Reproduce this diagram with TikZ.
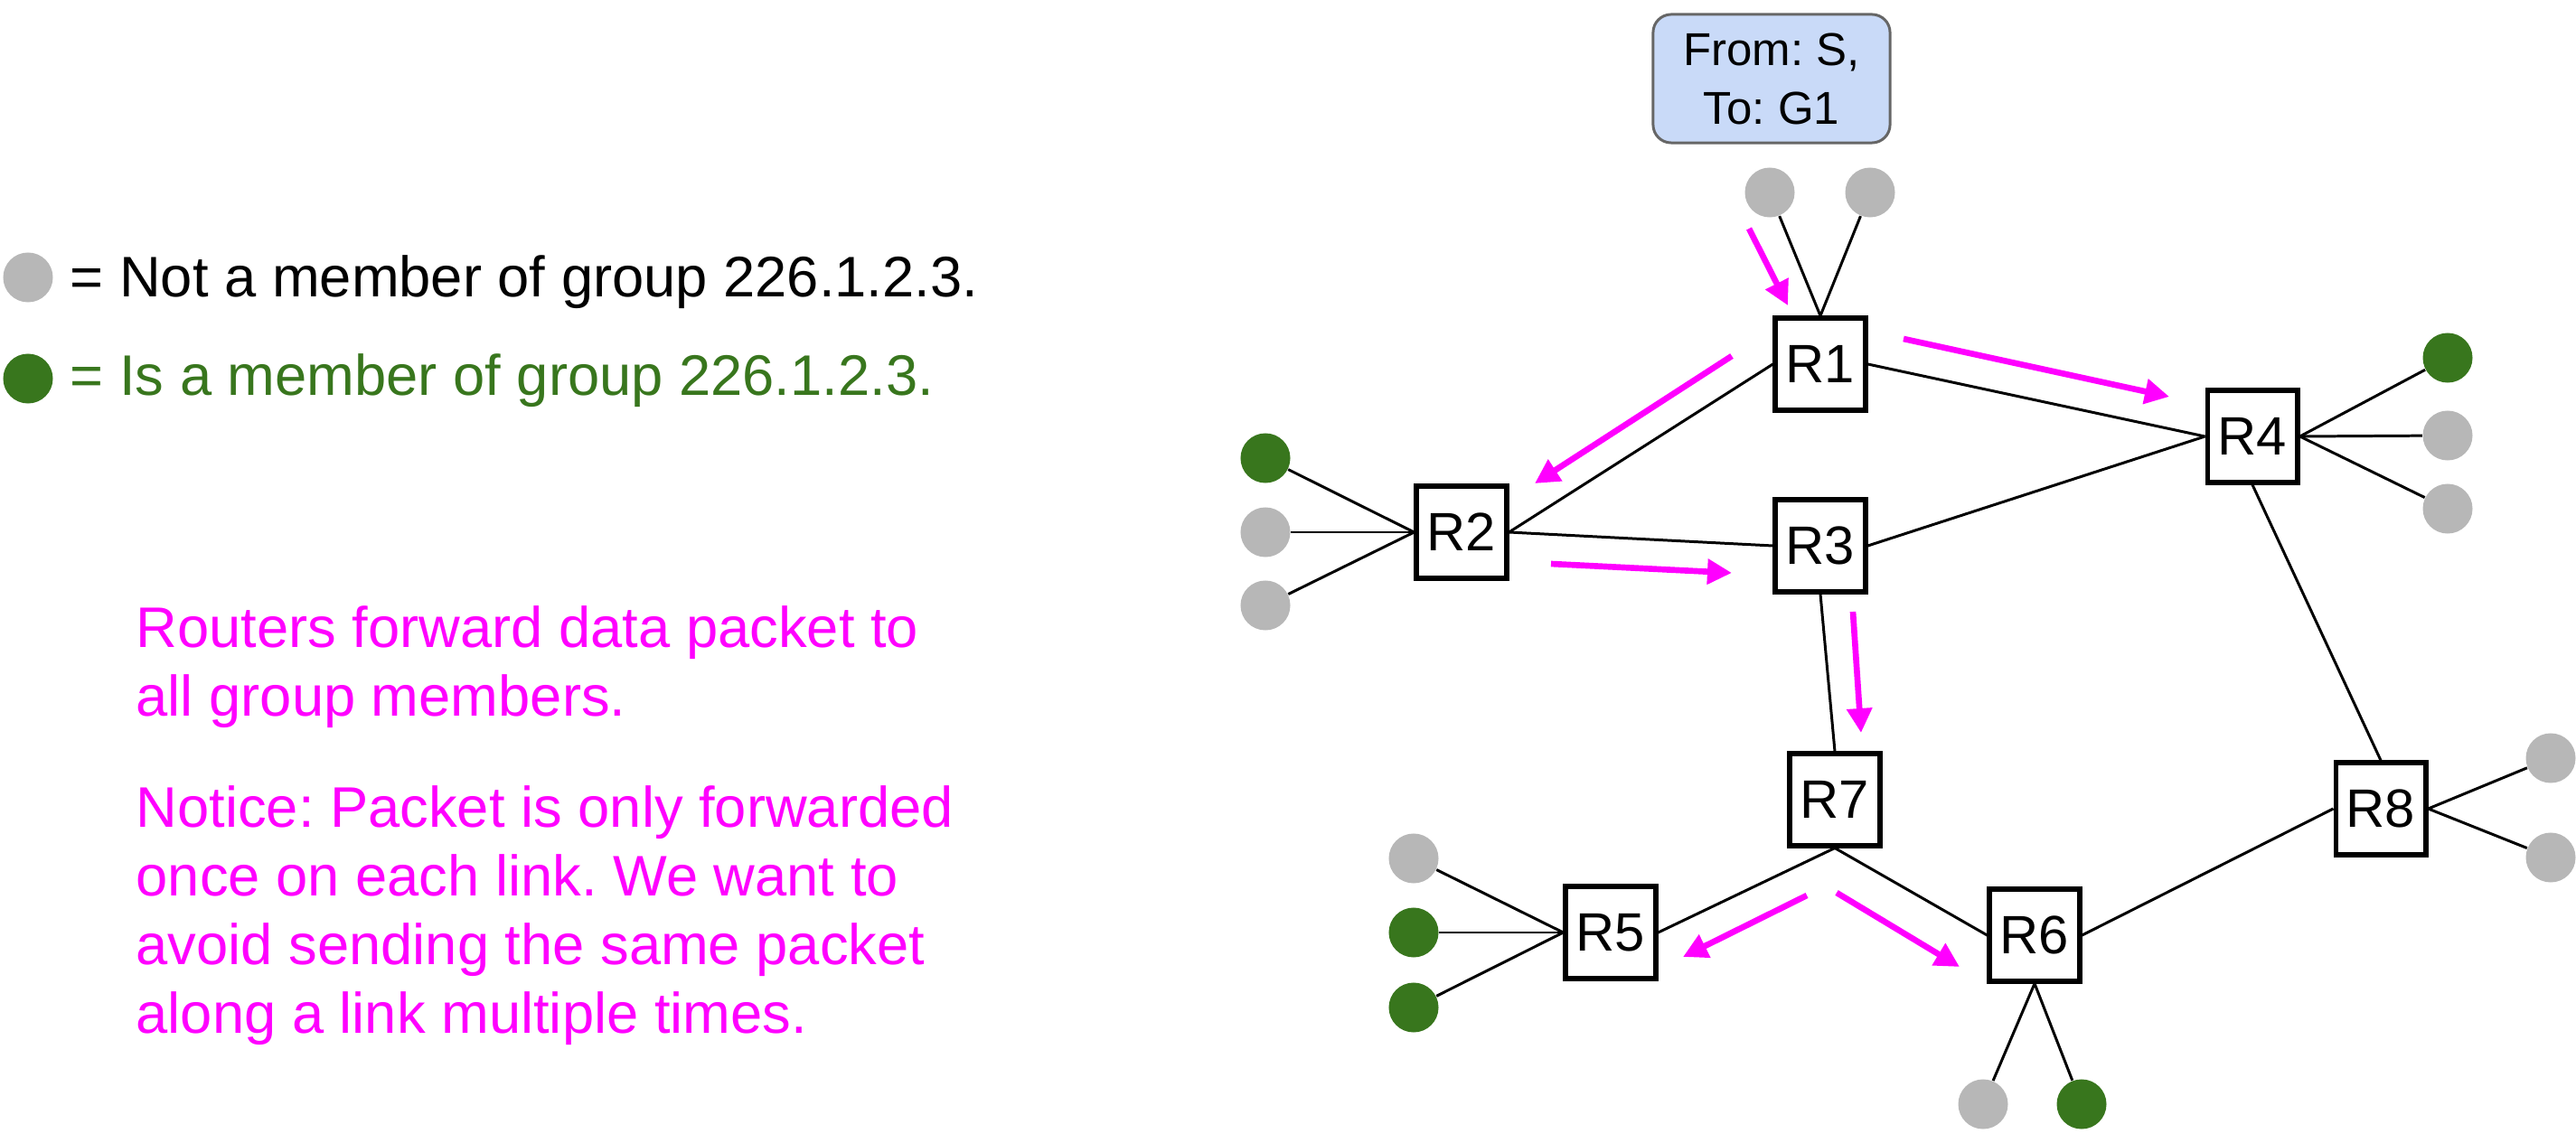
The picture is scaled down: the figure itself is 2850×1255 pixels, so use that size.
\documentclass[tikz,border=0pt]{standalone}
\usepackage{fontspec}
\setmainfont{Liberation Sans}
\usetikzlibrary{arrows.meta}
\definecolor{hostgray}{HTML}{B7B7B7}
\definecolor{membergreen}{HTML}{38761D}
\definecolor{fwdmagenta}{HTML}{FF00FF}
\definecolor{pktblue}{HTML}{C9DAF8}
\definecolor{pktborder}{HTML}{666666}
\frenchspacing
\begin{document}
\begin{tikzpicture}[x=0.01cm, y=-0.01cm,
	router/.style={draw, line width=1.7pt, minimum width=0.99cm, minimum height=1.01cm, inner sep=0pt, font=\fontsize{17pt}{20pt}\selectfont},
	host/.style={circle, fill=hostgray, minimum size=0.55cm, inner sep=0pt},
	member/.style={host, fill=membergreen},
	link/.style={line width=0.85pt},
	fwd/.style={-{Triangle[length=0.27cm,width=0.27cm]}, line width=1.9pt, fwdmagenta},
	big/.style={inner sep=0pt, font=\fontsize{18pt}{21.6pt}\selectfont}] %Inicio do desenho
					\useasboundingbox (0,0) rectangle (2850,1255);
					%Legenda
					\node[host] (legnot) at (31,307) {};
					\node[member] (legis) at (31,419) {};
					\node[big, anchor=base west] (legnottxt) at (77,329) {= Not a member of group 226.1.2.3.};
					\node[big, anchor=base west, text=membergreen] (legistxt) at (77,438) {= Is a member of group 226.1.2.3.};
					\node[big, anchor=base west, align=left, text=fwdmagenta] (note) at (150,1143) {Routers forward data packet to\\all group members.\\[0.47cm]Notice: Packet is only forwarded\\once on each link. We want to\\avoid sending the same packet\\along a link multiple times.}; %base = ultima linha
					
					%Pacote
					\node[draw=pktborder, fill=pktblue, rounded corners=0.2cm, line width=0.85pt, minimum width=2.62cm, minimum height=1.42cm, align=center, font=\fontsize{14.5pt}{18.5pt}\selectfont] (pkt) at (1960,87) {From: S,\\To: G1};
					
					%Roteadores
					\node[router] (R1) at (2014,403) {R1};
					\node[router] (R2) at (1617,589) {R2};
					\node[router] (R3) at (2014,604) {R3};
					\node[router] (R4) at (2492,483) {R4};
					\node[router] (R5) at (1782,1032) {R5};
					\node[router] (R6) at (2251,1035) {R6};
					\node[router] (R7) at (2030,885) {R7};
					\node[router] (R8) at (2634,895) {R8};
					
					%Hosts
					\node[host] (h1a) at (1958,213) {};
					\node[host] (h1b) at (2069,213) {};
					\node[member] (h2a) at (1400,507) {};
					\node[host] (h2b) at (1400,589) {};
					\node[host] (h2c) at (1400,670) {};
					\node[member] (h4a) at (2708,396) {};
					\node[host] (h4b) at (2708,482) {};
					\node[host] (h4c) at (2708,563) {};
					\node[host] (h5a) at (1564,950) {};
					\node[member] (h5b) at (1564,1032) {};
					\node[member] (h5c) at (1564,1115) {};
					\node[host] (h6a) at (2194,1222) {};
					\node[member] (h6b) at (2303,1222) {};
					\node[host] (h8a) at (2822,839) {};
					\node[host] (h8b) at (2822,949) {};
					
					%Enlaces
					\draw[link] (R1.west) -- (R2.east);
					\draw[link] (R1.east) -- (R4.west);
					\draw[link] (R2.east) -- (R3.west);
					\draw[link] (R3.east) -- (R4.west);
					\draw[link] (R3.south) -- (R7.north);
					\draw[link] (R4.south) -- (R8.north);
					\draw[link] (R7.south) -- (R5.east);
					\draw[link] (R7.south) -- (R6.west);
					\draw[link] (R6.east) -- (R8.west);
					\draw[link] (h1a) -- (R1.north);
					\draw[link] (h1b) -- (R1.north);
					\draw[link] (h2a) -- (R2.west);
					\draw[link] (h2b) -- (R2.west);
					\draw[link] (h2c) -- (R2.west);
					\draw[link] (h4a) -- (R4.east);
					\draw[link] (h4b) -- (R4.east);
					\draw[link] (h4c) -- (R4.east);
					\draw[link] (h5a) -- (R5.west);
					\draw[link] (h5b) -- (R5.west);
					\draw[link] (h5c) -- (R5.west);
					\draw[link] (h6a) -- (R6.south);
					\draw[link] (h6b) -- (R6.south);
					\draw[link] (h8a) -- (R8.east);
					\draw[link] (h8b) -- (R8.east);
					
					%Encaminhamento
					\coordinate (in1) at (1935,253);
					\coordinate (in2) at (1978,338);
					\coordinate (f14a) at (2106,375);
					\coordinate (f14b) at (2400,439);
					\coordinate (f12a) at (1916,394);
					\coordinate (f12b) at (1698,535);
					\coordinate (f23a) at (1716,624);
					\coordinate (f23b) at (1916,634);
					\coordinate (f37a) at (2050,677);
					\coordinate (f37b) at (2059,811);
					\coordinate (f75a) at (1999,991);
					\coordinate (f75b) at (1862,1059);
					\coordinate (f76a) at (2032,988);
					\coordinate (f76b) at (2168,1070);
					\draw[fwd] (in1) -- (in2);
					\draw[fwd] (f14a) -- (f14b);
					\draw[fwd] (f12a) -- (f12b);
					\draw[fwd] (f23a) -- (f23b);
					\draw[fwd] (f37a) -- (f37b);
					\draw[fwd] (f75a) -- (f75b);
					\draw[fwd] (f76a) -- (f76b);
					
\end{tikzpicture}
\end{document}
